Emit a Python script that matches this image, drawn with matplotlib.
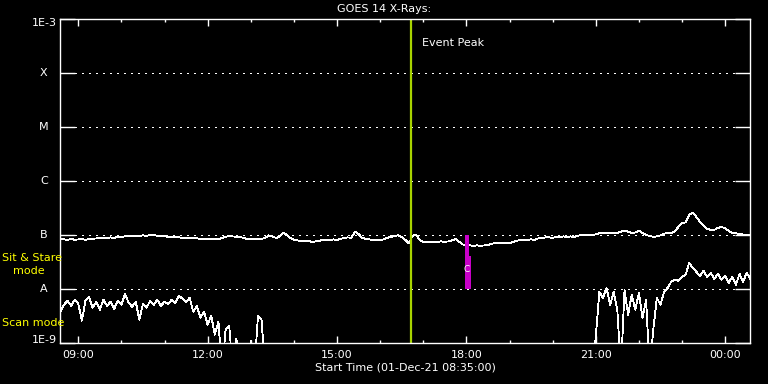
import numpy as np
import matplotlib
matplotlib.use("Agg")
import matplotlib.pyplot as plt
from matplotlib.ticker import FixedLocator, NullLocator
from matplotlib.transforms import blended_transform_factory

# ---------------- data ----------------
start_hour = 8 + 35 / 60          # 01-Dec-21 08:35:00
span_hours = 16.0
step_hours = 5 / 60               # 5-minute samples

# GOES long channel (1-8 A), units of 1e-8 W/m^2, every 5 min from 08:35
long_e8 = [
    8.43, 8.25, 8.08, 8.43, 8.08, 8.25, 8.43, 8.08, 8.43, 8.43,
    8.61, 8.80, 8.80, 8.80, 8.99, 8.80, 9.18, 9.18, 9.38, 9.58,
    9.38, 9.58, 9.58, 9.79, 9.58, 10.0, 10.0, 9.58, 9.38, 9.58,
    9.18, 9.18, 9.18, 8.99, 8.80, 8.80, 8.80, 8.80, 8.61, 8.43,
    8.43, 8.25, 8.25, 8.43, 8.25, 8.80, 9.18, 9.58, 9.38, 9.18,
    9.18, 8.80, 8.43, 8.43, 8.25, 8.43, 8.43, 8.80, 9.79, 9.38,
    8.80, 9.18, 10.9, 10.2, 8.80, 8.08, 7.91, 7.74, 7.58, 7.74,
    7.42, 7.58, 7.74, 8.08, 7.91, 8.08, 8.25, 8.08, 8.43, 8.80,
    8.99, 8.80, 11.6, 10.4, 8.80, 8.43, 8.25, 8.08, 8.08, 8.08,
    8.25, 8.80, 9.18, 9.58, 9.79, 9.18, 8.08, 6.96, 9.58, 10.2,
    8.08, 7.42, 7.26, 7.42, 7.26, 7.42, 7.58, 7.42, 7.58, 7.91,
    8.43, 7.42, 6.67, 6.39, 6.39, 6.26, 6.39, 6.26, 6.39, 6.53,
    6.81, 7.11, 7.11, 6.96, 7.11, 6.96, 7.42, 7.74, 8.08, 7.91,
    8.08, 8.25, 8.08, 8.61, 8.80, 8.99, 8.99, 8.80, 9.18, 8.99,
    9.38, 9.18, 9.38, 9.18, 9.58, 10.0, 10.0, 9.79, 10.0, 10.2,
    10.7, 11.1, 10.7, 10.9, 10.9, 10.9, 11.4, 12.1, 11.4, 10.9,
    11.1, 11.9, 10.9, 10.0, 9.58, 9.18, 9.38, 9.79, 10.4, 11.1,
    10.9, 11.6, 14.1, 16.7, 17.0, 23.5, 26.1, 21.5, 17.4, 15.0,
    12.9, 12.4, 12.4, 13.5, 14.1, 13.2, 11.9, 10.9, 10.7, 10.4,
    10.2, 10.0, 10.0,
]

# GOES short channel (0.5-4 A), units of 1e-9 W/m^2; 0.3 = below plot floor
short_early_e9 = [
    3.75, 5.05, 5.99, 4.84, 6.26, 5.27, 2.56, 5.99, 7.11, 4.45,
    5.74, 4.08, 6.26, 4.84, 5.74, 4.26, 5.99, 5.05, 8.08, 5.50,
    4.64, 5.74, 2.67, 5.27, 4.45, 5.99, 5.05, 6.26, 4.84, 5.74,
    5.27, 6.26, 5.50, 7.42, 6.53, 5.74, 6.81, 3.75, 4.84, 2.90,
    3.75, 2.15, 3.16, 1.41, 2.45, 0.3, 1.74, 2.06, 0.3, 1.19,
    0.3, 0.3, 0.3, 1.09, 0.3, 3.16, 2.67, 0.3,
]
short_late_first_sample = 148
short_late_e9 = [
    0.3, 1.29, 8.80, 6.81, 10.4, 5.05, 8.80, 4.08, 0.3, 9.58,
    3.30, 7.74, 4.08, 8.43, 2.90, 6.26, 0.3, 1.74, 6.81, 5.05,
    8.80, 10.4, 13.5, 14.7, 14.1, 16.7, 18.2, 30.3, 24.5, 20.6,
    17.4, 21.5, 16.7, 19.8, 15.3, 18.9, 14.7, 17.4, 12.9, 16.7,
    11.9, 18.9, 13.5, 19.8, 15.3,
]

levels = [1e-3, 1e-4, 1e-5, 1e-6, 1e-7, 1e-8, 1e-9]
level_labels = ["1E-3", "X", "M", "C", "B", "A", "1E-9"]
grid_levels = [1e-4, 1e-5, 1e-6, 1e-7, 1e-8]

event_peak_hour = 16 + 43 / 60
# sit & stare markers: (start hour, end hour, low flux, high flux)
sit_stare_bars = [
    (17 + 58 / 60, 18 + 3 / 60, 1e-8, 1e-7),
    (18 + 3 / 60, 18 + 6 / 60, 1e-8, 4.1e-8),
]
sit_stare_mark_hour = 18 + 1 / 60
sit_stare_mark_flux = 2.25e-8

xtick_hours = [9, 12, 15, 18, 21, 24]
xtick_labels = ["09:00", "12:00", "15:00", "18:00", "21:00", "00:00"]
minor_hours = list(range(9, 25))

# ---------------- figure ----------------
W, H = 768, 384
fig = plt.figure(figsize=(W / 100, H / 100), dpi=100, facecolor="black")
ax = fig.add_axes([60.3 / W, 1 - 342.7 / H, 690 / W, 323.4 / H], facecolor="black")

t_long = start_hour + step_hours * np.arange(len(long_e8))
t_early = start_hour + step_hours * np.arange(len(short_early_e9))
t_late = start_hour + step_hours * (short_late_first_sample + np.arange(len(short_late_e9)))

lw = 0.6
ax.plot(t_long, np.array(long_e8) * 1e-8, color="white", lw=lw, antialiased=False)
ax.plot(t_early, np.array(short_early_e9) * 1e-9, color="white", lw=lw, antialiased=False)
ax.plot(t_late, np.array(short_late_e9) * 1e-9, color="white", lw=lw, antialiased=False)

ax.set_yscale("log")
ax.set_ylim(1e-9, 1e-3)
ax.set_xlim(start_hour, start_hour + span_hours)

# dotted level lines
for lv in grid_levels:
    ax.axhline(lv, xmin=15 / 690, xmax=1, color="white", lw=0.75,
               linestyle=(0, (1, 5)), antialiased=False)

# event peak
ax.axvline(event_peak_hour, color="#a8d400", lw=1.6)
ax.text(event_peak_hour + 10.5 / 43.15, 10 ** (-3 - (42.5 - 19.3) / 53.9), "Event Peak",
        color="white", fontsize=8, va="center", ha="left")

# sit & stare bars
for t0, t1, lo, hi in sit_stare_bars:
    ax.fill_between([t0, t1], [lo, lo], [hi, hi], color="#c800c8", lw=0, zorder=3)
ax.text(sit_stare_mark_hour, sit_stare_mark_flux, "C", color="white", fontsize=6.5,
        ha="center", va="center", zorder=4)

# axes style
for s in ax.spines.values():
    s.set_color("white")
    s.set_linewidth(1.0)

ax.yaxis.set_major_locator(FixedLocator(levels))
ax.yaxis.set_minor_locator(NullLocator())
ax.set_yticklabels([])
ax.tick_params(axis="y", which="major", direction="in", length=10.8, width=1.0,
               color="white", left=True, right=True)

ax.xaxis.set_major_locator(FixedLocator(xtick_hours))
ax.xaxis.set_minor_locator(FixedLocator(minor_hours))
ax.set_xticklabels(xtick_labels)
ax.tick_params(axis="x", which="major", direction="in", length=4.7, width=1.0,
               color="white", top=True, bottom=True, labelcolor="white",
               labelsize=8, pad=5)
ax.tick_params(axis="x", which="minor", direction="in", length=2.3, width=1.0,
               color="white", top=True, bottom=True)

# y level labels
trans = blended_transform_factory(ax.transAxes, ax.transData)
for lv, lab in zip(levels, level_labels):
    if lab.startswith("1E"):
        yoff = 10 ** (-3.6 / 53.9) if lab == "1E-3" else 10 ** (3.0 / 53.9)
        ax.text(-3.5 / 690, lv * yoff, lab, transform=trans, color="white",
                fontsize=8, ha="right", va="center", clip_on=False)
    else:
        ax.text(-16.5 / 690, lv, lab, transform=trans, color="white",
                fontsize=8, ha="center", va="center", clip_on=False)

# figure texts
fig.text(384 / W, 1 - 9 / H, "GOES 14 X-Rays:", color="white", fontsize=8,
         ha="center", va="center")
fig.text(405 / W, 1 - 368 / H, "Start Time (01-Dec-21 08:35:00)", color="white",
         fontsize=8, ha="center", va="center")
fig.text(2 / W, 1 - 258 / H, "Sit & Stare", color="yellow", fontsize=8,
         ha="left", va="center")
fig.text(13 / W, 1 - 271 / H, "mode", color="yellow", fontsize=8,
         ha="left", va="center")
fig.text(2 / W, 1 - 323.5 / H, "Scan mode", color="yellow", fontsize=8,
         ha="left", va="center")

fig.savefig("out.png", dpi=100, facecolor="black")
